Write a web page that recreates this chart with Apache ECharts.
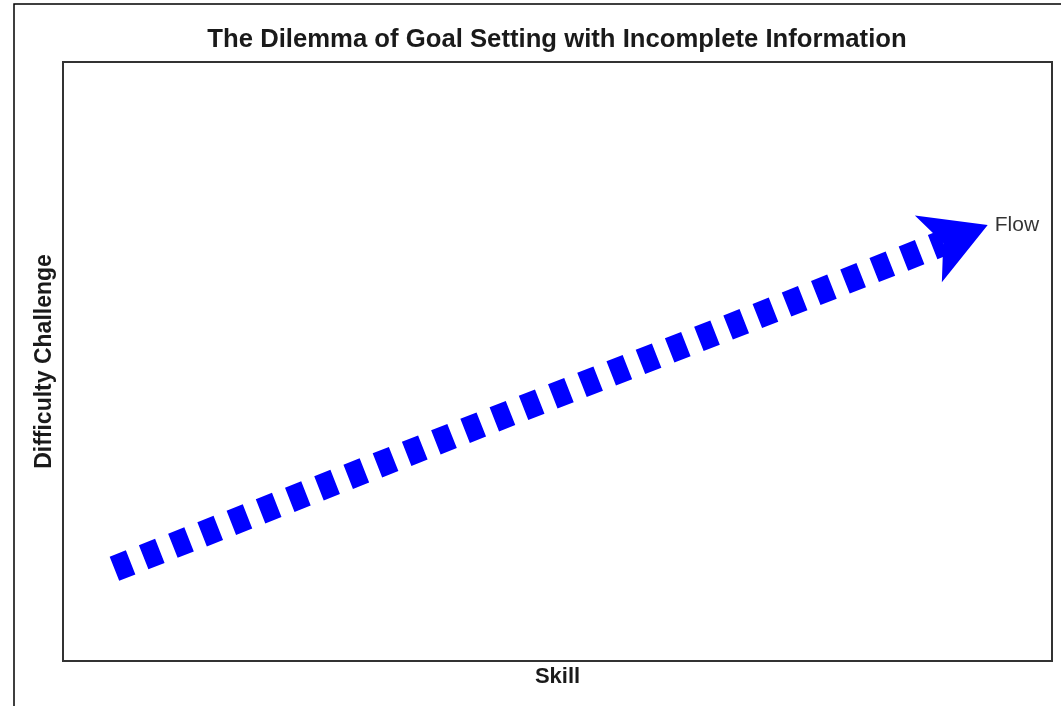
<!DOCTYPE html>
<html>
<head>
<meta charset="utf-8">
<script src="https://cdn.jsdelivr.net/npm/echarts@6/dist/echarts.min.js"></script>
<style>
  html, body { margin: 0; padding: 0; background: #fff; }
  #chart { width: 1061px; height: 706px; }
</style>
</head>
<body>
<div id="chart"></div>
<script>
// arrow path in data units (axes run 0..10, hidden)
const flowStart = [0.52, 1.54];
const flowNotch = [8.9, 6.98];
const flowTip = [9.35, 7.28];
const flowLabel = "Flow";

const chart = echarts.init(document.getElementById("chart"));

const axisText = {
  fontFamily: "Liberation Sans",
  fontWeight: "bold",
  fontSize: 22,
  color: "#1a1a1a",
};

const option = {
  backgroundColor: "#fff",
  animation: false,
  title: {
    text: "The Dilemma of Goal Setting with Incomplete Information",
    left: 552,
    textAlign: "center",
    top: 22,
    textStyle: {
      fontFamily: "Liberation Sans",
      fontWeight: "bold",
      fontSize: 25.7,
      color: "#1a1a1a",
    },
  },
  graphic: [
    {
      type: "rect",
      shape: { x: 14, y: 4, width: 1200, height: 900 },
      style: { fill: "none", stroke: "#000", lineWidth: 1.5 },
      silent: true,
    },
  ],
  grid: {
    left: 63,
    right: 9,
    top: 62,
    bottom: 45,
    show: true,
    borderColor: "#333",
    borderWidth: 2,
  },
  xAxis: {
    type: "value",
    min: 0,
    max: 10,
    name: "Skill",
    nameLocation: "middle",
    nameGap: 5,
    nameTextStyle: axisText,
    axisLine: { show: false },
    axisTick: { show: false },
    axisLabel: { show: false },
    splitLine: { show: false },
  },
  yAxis: {
    type: "value",
    min: 0,
    max: 10,
    name: "Difficulty Challenge",
    nameLocation: "middle",
    nameGap: 7,
    nameTextStyle: Object.assign({}, axisText, { fontSize: 23 }),
    axisLine: { show: false },
    axisTick: { show: false },
    axisLabel: { show: false },
    splitLine: { show: false },
  },
  series: [
    {
      // dashed shaft
      type: "line",
      data: [],
      markLine: {
        silent: true,
        symbol: ["none", "none"],
        label: { show: false },
        lineStyle: {
          color: "#0000ff",
          width: 26,
          type: [17.4, 14],
          cap: "butt",
          opacity: 1,
        },
        emphasis: { disabled: true },
        data: [[{ coord: flowStart }, { coord: flowNotch }]],
      },
    },
    {
      // arrow head
      type: "line",
      data: [],
      markLine: {
        silent: true,
        symbol: ["none", "arrow"],
        symbolSize: [54, 64],
        label: { show: false },
        lineStyle: { color: "#0000ff", width: 0, opacity: 1 },
        emphasis: { disabled: true },
        data: [[{ coord: flowNotch }, { coord: flowTip }]],
      },
    },
    {
      type: "scatter",
      symbolSize: 0,
      silent: true,
      data: [flowTip],
      label: {
        show: true,
        position: "right",
        distance: 7,
        formatter: flowLabel,
        fontFamily: "Liberation Sans",
        fontSize: 21,
        color: "#000",
      },
    },
  ],
};

chart.setOption(option);
</script>
</body>
</html>
